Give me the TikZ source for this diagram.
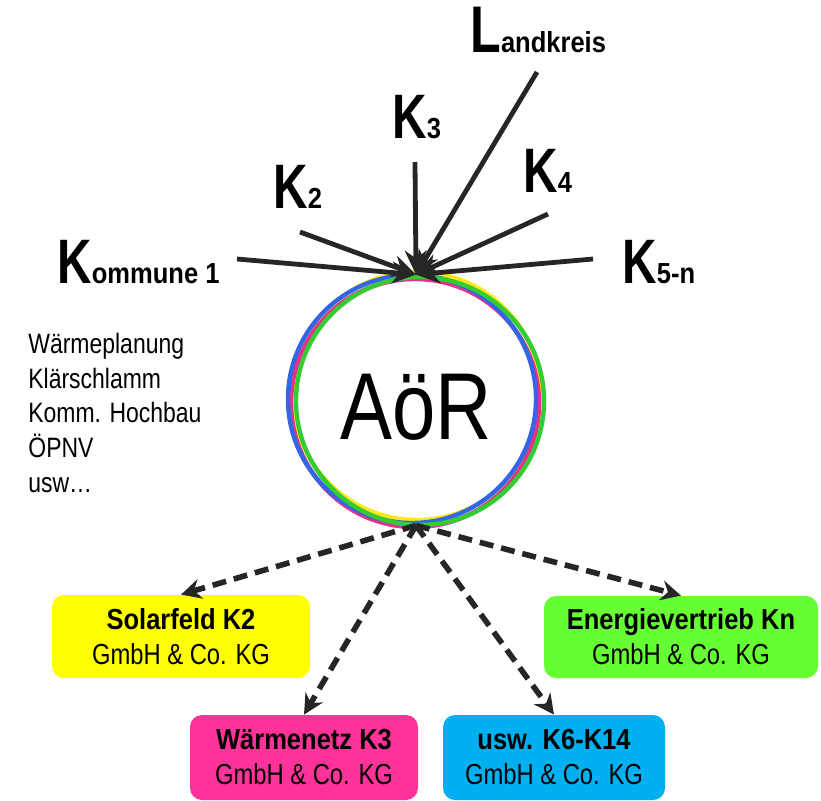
\documentclass[tikz,border=0pt]{standalone}
\usepackage{fontspec}
\setmainfont[FakeStretch=0.82,BoldFeatures={FakeStretch=0.88}]{Liberation Sans}
\newfontfamily\bigfont[FakeStretch=0.76]{Liberation Sans}
\usetikzlibrary{arrows.meta}

\definecolor{ink}{HTML}{262626}
\definecolor{solaryellow}{HTML}{FFFF00}
\definecolor{netzpink}{HTML}{FF3399}
\definecolor{uswblue}{HTML}{00B0F0}
\definecolor{vertriebgreen}{HTML}{66FF33}
\definecolor{ringyellow}{HTML}{FFE81A}
\definecolor{ringpink}{HTML}{E6318C}
\definecolor{ringgreen}{HTML}{33CC33}
\definecolor{ringblue}{HTML}{3366E6}

\newcommand{\capital}[1]{{\bigfont\bfseries\fontsize{31.4}{36}\selectfont #1}}

\begin{document}
\begin{tikzpicture}[x=0.5pt, y=-0.5pt,
    spoke/.style={ink, line width=2.4pt, -{Stealth[length=12pt,width=11pt]}},
    branch/.style={ink, line width=2.8pt, dash pattern=on 7pt off 4pt,
      -{Stealth[length=10pt,width=10pt]}},
    firm/.style={rounded corners=6pt, inner sep=0pt, align=center,
      font=\fontsize{14.5}{17.5}\selectfont},
    town/.style={anchor=base west, inner sep=0pt,
      font=\bfseries\fontsize{14.5}{17}\selectfont},
    ring/.style={line width=2.2pt}]
  \useasboundingbox (0, 0) rectangle (821, 800);

  % the coloured rings round the AöR
  \draw[ring, ringyellow] (417, 396) circle[radius=124];
  \draw[ring, ringpink] (415, 403) circle[radius=124];
  \draw[ring, ringblue] (412, 399) circle[radius=124];
  \draw[ring, ringgreen] (420, 401) circle[radius=124];
  \node[circle, minimum size=125pt, inner sep=0pt, text height=40pt,
    font=\fontsize{47.5}{50}\selectfont] (aor) at (416, 400) {AöR};

  % members
  \node[town] (kommune) at (57, 283) {\capital{K}ommune 1};
  \node[town] (k2) at (273, 208) {\capital{K}2};
  \node[town] (k3) at (392, 138) {\capital{K}3};
  \node[town] (k4) at (523, 192) {\capital{K}4};
  \node[town] (k5) at (622, 283) {\capital{K}5-n};
  \node[town] (landkreis) at (470, 52)
    {{\bigfont\bfseries\fontsize{33}{38}\selectfont L}andkreis};

  \coordinate (kommuneend) at (237, 259);
  \coordinate (k2end) at (300, 232);
  \coordinate (k3end) at (415, 162);
  \coordinate (k4end) at (548, 214);
  \coordinate (k5end) at (593, 259);
  \coordinate (landkreisend) at (537, 72);

  \foreach \m in {kommuneend, k2end, k3end, k4end, k5end, landkreisend}
    \draw[spoke] (\m) -- (aor.north);

  % tasks
  \node[anchor=north west, inner sep=0pt, align=left,
    font=\fontsize{14}{17.3}\selectfont] (tasks) at (28, 333)
    {Wärmeplanung\\Klärschlamm\\Komm. Hochbau\\ÖPNV\\usw…};

  % companies
  \node[firm, fill=solaryellow, minimum width=129pt, minimum height=41.5pt]
    (solar) at (181, 636.5) {\textbf{Solarfeld K2}\\GmbH \& Co. KG};
  \node[firm, fill=vertriebgreen, minimum width=137pt, minimum height=41pt]
    (vertrieb) at (681, 637) {\textbf{Energievertrieb Kn}\\GmbH \& Co. KG};
  \node[firm, fill=netzpink, minimum width=114pt, minimum height=42.5pt]
    (netz) at (304, 757.5) {\textbf{Wärmenetz K3}\\GmbH \& Co. KG};
  \node[firm, fill=uswblue, minimum width=111pt, minimum height=42.5pt]
    (usw) at (554, 757.5) {\textbf{usw. K6-K14}\\GmbH \& Co. KG};

  \foreach \f in {solar, vertrieb, netz, usw}
    \draw[branch] (aor.south) -- (\f.north);
\end{tikzpicture}
\end{document}
